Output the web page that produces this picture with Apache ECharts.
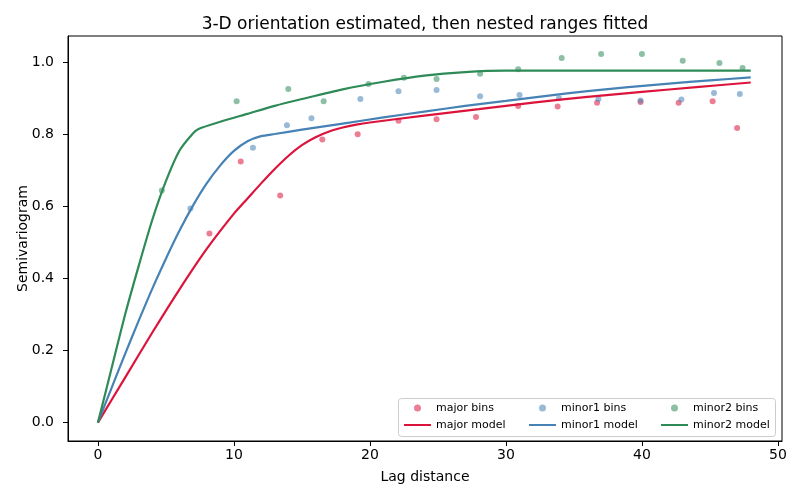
<!DOCTYPE html>
<html>
<head>
<meta charset="utf-8">
<title>Semivariogram</title>
<script src="https://cdn.jsdelivr.net/npm/echarts@6/dist/echarts.min.js"></script>
<style>
  html, body { margin: 0; padding: 0; background: #fff; }
  #chart { width: 800px; height: 500px; }
</style>
</head>
<body>
<div id="chart"></div>
<script>
// experimental bins (lag, gamma)
var lagMajor = [8.2, 10.5, 13.4, 16.5, 19.1, 22.1, 24.9, 27.8, 30.9, 33.8, 36.7, 39.9, 42.7, 45.2, 47.0];
var gamMajor = [0.525, 0.725, 0.63, 0.786, 0.80, 0.838, 0.842, 0.848, 0.879, 0.877, 0.888, 0.890, 0.888, 0.892, 0.818];

var lagMinor1 = [6.8, 11.4, 13.9, 15.7, 19.3, 22.1, 24.9, 28.1, 31.0, 33.9, 36.8, 39.9, 42.9, 45.3, 47.2];
var gamMinor1 = [0.594, 0.763, 0.825, 0.845, 0.898, 0.920, 0.923, 0.906, 0.909, 0.900, 0.898, 0.894, 0.897, 0.915, 0.912];

var lagMinor2 = [4.7, 10.2, 14.0, 16.6, 19.9, 22.5, 24.9, 28.1, 30.9, 34.1, 37.0, 40.0, 43.0, 45.7, 47.4];
var gamMinor2 = [0.644, 0.892, 0.926, 0.892, 0.940, 0.957, 0.954, 0.968, 0.981, 1.012, 1.023, 1.023, 1.004, 0.998, 0.984];

// fitted nested models
var modelLagMajor = [0, 2, 4, 6, 8, 10, 11, 12, 13, 14, 15, 16, 17, 18, 19, 20, 24, 28, 32, 36, 40, 44, 48];
var modelMajor = [0, 0.125, 0.25, 0.37, 0.482, 0.58, 0.622, 0.664, 0.704, 0.74, 0.77, 0.792, 0.808, 0.819, 0.827, 0.833, 0.852, 0.870, 0.888, 0.904, 0.918, 0.931, 0.944];

var modelLagMinor1 = [0, 1, 2, 3, 4, 5, 6, 7, 8, 9, 10, 11, 12, 13, 15, 18, 21, 24, 27, 30, 33, 36, 39, 42, 45, 48];
var modelMinor1 = [0, 0.096, 0.191, 0.283, 0.372, 0.455, 0.533, 0.603, 0.664, 0.714, 0.754, 0.781, 0.795, 0.801, 0.813, 0.83, 0.847, 0.863, 0.879, 0.893, 0.907, 0.92, 0.931, 0.941, 0.95, 0.958];

var modelLagMinor2 = [0, 1, 2, 3, 4, 5, 6, 7, 7.4, 9, 11, 13, 15, 18, 21, 24, 27, 30, 48];
var modelMinor2 = [0, 0.15, 0.30, 0.435, 0.563, 0.67, 0.755, 0.803, 0.815, 0.835, 0.857, 0.879, 0.898, 0.925, 0.946, 0.963, 0.973, 0.977, 0.977];

var xTicks = [0, 10, 20, 30, 40, 50];
var yTicks = [0, 0.2, 0.4, 0.6, 0.8, 1.0];

var cMajor = "#dc143c";
var cMinor1 = "#4682b4";
var cMinor2 = "#2e8b57";

function pairs(xs, ys) {
  var out = [];
  for (var i = 0; i < xs.length; i++) out.push([xs[i], ys[i]]);
  return out;
}

function bins(name, xs, ys, color) {
  return {
    name: name,
    type: "scatter",
    data: pairs(xs, ys),
    symbolSize: 6,
    itemStyle: { color: color, opacity: 0.55 },
    z: 2
  };
}

function model(name, xs, ys, color) {
  return {
    name: name,
    type: "line",
    data: pairs(xs, ys),
    symbol: "none",
    showSymbol: false,
    smooth: 0.25,
    lineStyle: { color: color, width: 2.2 },
    itemStyle: { color: color },
    z: 3
  };
}

// line entries in the legend: show only the stroke, no marker
function lineEntry(name) {
  return { name: name, itemStyle: { opacity: 0 } };
}

var font = "DejaVu Sans";
var legendBase = {
  orient: "vertical",
  top: 397,
  itemWidth: 27,
  itemHeight: 7,
  itemGap: 5,
  textStyle: { fontFamily: font, fontSize: 11, color: "#000", lineHeight: 12 }
};

var chart = echarts.init(document.getElementById("chart"));

var option = {
  animation: false,
  backgroundColor: "#fff",
  title: {
    text: "3-D orientation estimated, then nested ranges fitted",
    left: 420,
    textAlign: "center",
    top: 11,
    textStyle: { fontFamily: font, fontSize: 17, fontWeight: "normal", color: "#000" }
  },
  grid: {
    left: 68, right: 18, top: 36, bottom: 59,
    show: true, borderColor: "#000", borderWidth: 1, backgroundColor: "transparent"
  },
  xAxis: {
    type: "value",
    min: -2.2,
    max: 50.3,
    name: "Lag distance",
    nameLocation: "middle",
    nameGap: 29,
    nameTextStyle: { fontFamily: font, fontSize: 14, color: "#000" },
    axisLine: { show: true, onZero: false, lineStyle: { color: "#000" } },
    axisTick: { show: true, customValues: xTicks, length: 5, lineStyle: { color: "#000" } },
    axisLabel: { customValues: xTicks, margin: 7, fontFamily: font, fontSize: 14, color: "#000" },
    splitLine: { show: false }
  },
  yAxis: {
    type: "value",
    min: -0.051,
    max: 1.073,
    name: "Semivariogram",
    nameLocation: "middle",
    nameGap: 38,
    nameMoveOverlap: false,
    nameTextStyle: { fontFamily: font, fontSize: 14, color: "#000" },
    axisLine: { show: true, onZero: false, lineStyle: { color: "#000" } },
    axisTick: { show: true, customValues: yTicks, length: 5, lineStyle: { color: "#000" } },
    axisLabel: {
      customValues: yTicks, margin: 14, fontFamily: font, fontSize: 14, color: "#000",
      formatter: function (v) { return v.toFixed(1); }
    },
    splitLine: { show: false }
  },
  legend: [
    Object.assign({}, legendBase, { left: 398, data: ["major bins", lineEntry("major model")] }),
    Object.assign({}, legendBase, { left: 523, data: ["minor1 bins", lineEntry("minor1 model")] }),
    Object.assign({}, legendBase, { left: 655, data: ["minor2 bins", lineEntry("minor2 model")] })
  ],
  graphic: [{
    type: "rect",
    z: 0,
    shape: { x: 398.5, y: 398.5, width: 377, height: 38, r: 3 },
    style: { fill: "rgba(255,255,255,0.8)", stroke: "#cccccc", lineWidth: 1 }
  }],
  series: [
    bins("major bins", lagMajor, gamMajor, cMajor),
    model("major model", modelLagMajor, modelMajor, cMajor),
    bins("minor1 bins", lagMinor1, gamMinor1, cMinor1),
    model("minor1 model", modelLagMinor1, modelMinor1, cMinor1),
    bins("minor2 bins", lagMinor2, gamMinor2, cMinor2),
    model("minor2 model", modelLagMinor2, modelMinor2, cMinor2)
  ]
};

chart.setOption(option);
</script>
</body>
</html>
